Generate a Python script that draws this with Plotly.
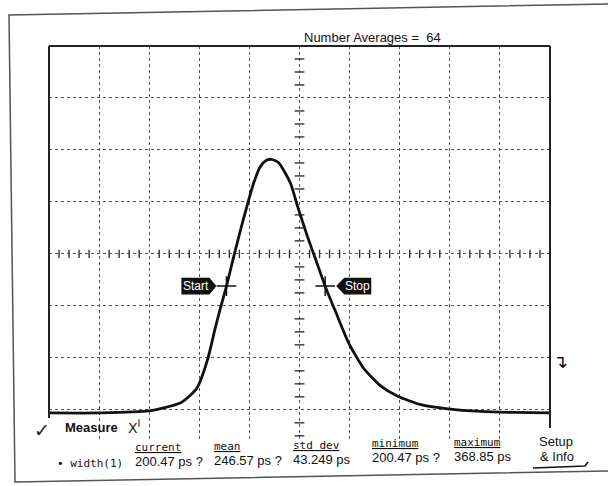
import numpy as np
import plotly.graph_objects as go

# ---- data (time in ps, amplitude in screen divisions) ----
time_ps = [-500, -400, -300, -238, -218, -204, -184, -168, -158, -146, -132, -118, -104,
           -92, -78, -66, -56, -42, -18, -4, 16, 32, 52, 72, 98, 128, 162, 196,
           242, 296, 362, 430, 502]
amplitude_div = [-3.06, -3.06, -3.02, -2.87, -2.72, -2.57, -2.05, -1.42, -1.05, -0.63,
                 -0.08, 0.45, 0.95, 1.35, 1.68, 1.80, 1.82, 1.76, 1.36, 0.92, 0.33,
                 -0.10, -0.64, -1.11, -1.71, -2.20, -2.54, -2.74, -2.90, -2.98,
                 -3.03, -3.05, -3.06]

header_text = "Number Averages =  64"
stat_labels = ["current", "mean", "std dev", "minimum", "maximum"]
stat_values = ["200.47 ps ?", "246.57 ps ?", "43.249 ps", "200.47 ps ?", "368.85 ps"]
measure_name = "\u2022 width(1)"

# ---- layout geometry (pixels) ----
W, H = 608, 486
L, R, T, B = 49, 550, 46, 441
XR = [-500, 500]
YR = [-3.6, 4]
NARROW = "Liberation Sans Narrow, Arial Narrow, Liberation Sans"


def px(x):
    return (x - L) / (R - L)


def py(y):
    return (B - y) / (B - T)


fig = go.Figure()

# center-axis minor ticks
hx = [v for v in np.arange(-500, 501, 20) if v % 100 != 0]
fig.add_trace(go.Scatter(x=hx, y=[0] * len(hx), mode="markers", hoverinfo="skip",
                         marker=dict(symbol="line-ns", size=6,
                                     line=dict(width=1.4, color="#333"))))
vy = [v for v in np.arange(-3.5, 4.0, 0.25) if abs(v - round(v)) > 1e-6]
fig.add_trace(go.Scatter(x=[0] * len(vy), y=vy, mode="markers", hoverinfo="skip",
                         marker=dict(symbol="line-ew", size=7,
                                     line=dict(width=1.4, color="#333"))))

# trace
fig.add_trace(go.Scatter(x=time_ps, y=amplitude_div, mode="lines",
                         line=dict(color="#111", width=2.8, shape="spline",
                                   smoothing=0.6)))

# half-max crossings (Start / Stop)
t = np.array(time_ps, float)
a = np.array(amplitude_div, float)
ipk = int(np.argmax(a))
half = (a.max() + a[0]) / 2
t_start = float(np.interp(half, a[:ipk + 1], t[:ipk + 1]))
t_stop = float(np.interp(-half, -a[ipk:], t[ipk:]))
fig.add_trace(go.Scatter(x=[t_start, t_stop], y=[half, half], mode="markers",
                         hoverinfo="skip",
                         marker=dict(symbol="cross-thin", size=14,
                                     line=dict(width=1.5, color="#111"))))

shapes = []
h = 0.16
sx0, sx1, stip = t_start - 90, t_start - 34, t_start - 20
shapes.append(dict(type="path", xref="x", yref="y", fillcolor="#111",
                   line=dict(width=0),
                   path=f"M{sx0},{half-h} L{sx1},{half-h} L{stip},{half} "
                        f"L{sx1},{half+h} L{sx0},{half+h} Z"))
px0, px1, ptip = t_stop + 38, t_stop + 92, t_stop + 22
shapes.append(dict(type="path", xref="x", yref="y", fillcolor="#111",
                   line=dict(width=0),
                   path=f"M{ptip},{half} L{px0},{half-h} L{px1},{half-h} "
                        f"L{px1},{half+h} L{px0},{half+h} Z"))

# plot borders
shapes.append(dict(type="line", xref="paper", yref="paper", x0=0, x1=1, y0=1, y1=1,
                   line=dict(color="#222", width=2)))
shapes.append(dict(type="line", xref="paper", yref="paper", x0=0, x1=0, y0=1, y1=py(418),
                   line=dict(color="#222", width=2)))
shapes.append(dict(type="line", xref="paper", yref="paper", x0=1, x1=1, y0=1, y1=py(428),
                   line=dict(color="#222", width=2)))
# page frame of the scan
shapes.append(dict(type="path", xref="paper", yref="paper",
                   line=dict(color="#555", width=1.5),
                   path=f"M{px(W)},{py(4)} L{px(9)},{py(15)} L{px(15)},{py(482)} "
                        f"L{px(W)},{py(471)}"))
# Setup & Info underline with hook
shapes.append(dict(type="path", xref="paper", yref="paper",
                   line=dict(color="#111", width=1.6),
                   path=f"M{px(533)},{py(468)} L{px(585)},{py(466)} L{px(588)},{py(462)}"))

ann = []


def add_text(x, y, text, family=NARROW, size=13, color="#111", xanchor="center"):
    ann.append(dict(x=px(x), y=py(y), xref="paper", yref="paper", text=text,
                    showarrow=False, xanchor=xanchor, yanchor="middle",
                    font=dict(family=family, size=size, color=color)))


add_text(372, 37, header_text, size=13)
ann.append(dict(x=(sx0 + sx1) / 2 + 2, y=half, xref="x", yref="y", text="Start",
                showarrow=False, font=dict(family=NARROW, size=12, color="white")))
ann.append(dict(x=(px0 + px1) / 2, y=half, xref="x", yref="y", text="Stop",
                showarrow=False, font=dict(family=NARROW, size=12, color="white")))
add_text(560, 361, "\u21b4", family="DejaVu Sans", size=18)
add_text(42, 430, "\u2713", family="DejaVu Sans", size=19, color="#222")
add_text(63, 427, "<b>Measure</b>", size=13, xanchor="left")
add_text(134, 427, "X<sup>I</sup>", family="DejaVu Sans", size=14, color="#222")
add_text(55, 463, measure_name, family="DejaVu Sans Mono", size=11, xanchor="left")

col_x = [133, 212, 291, 370, 452]
col_dy = [0, -1, -2, -4, -5]
for lab, val, cx, dy in zip(stat_labels, stat_values, col_x, col_dy):
    add_text(cx, 447 + dy, f"<u>{lab}</u>", family="DejaVu Sans Mono", size=11,
             xanchor="left")
    add_text(cx, 461 + dy, val, size=13, xanchor="left")
add_text(556, 441, "Setup", size=13)
add_text(557, 456, "& Info", size=13)

grid = dict(showgrid=True, gridcolor="#555", gridwidth=1, griddash="dot",
            zeroline=False, showline=False, ticks="", showticklabels=False,
            fixedrange=True)
fig.update_layout(
    width=W, height=H, autosize=False,
    margin=dict(l=L, r=W - R, t=T, b=H - B, pad=0),
    paper_bgcolor="white", plot_bgcolor="white",
    showlegend=False,
    xaxis=dict(range=XR, dtick=100, tick0=0, **grid),
    yaxis=dict(range=YR, dtick=1, tick0=0, **grid),
    shapes=shapes, annotations=ann,
)
fig.write_html("out.html")
